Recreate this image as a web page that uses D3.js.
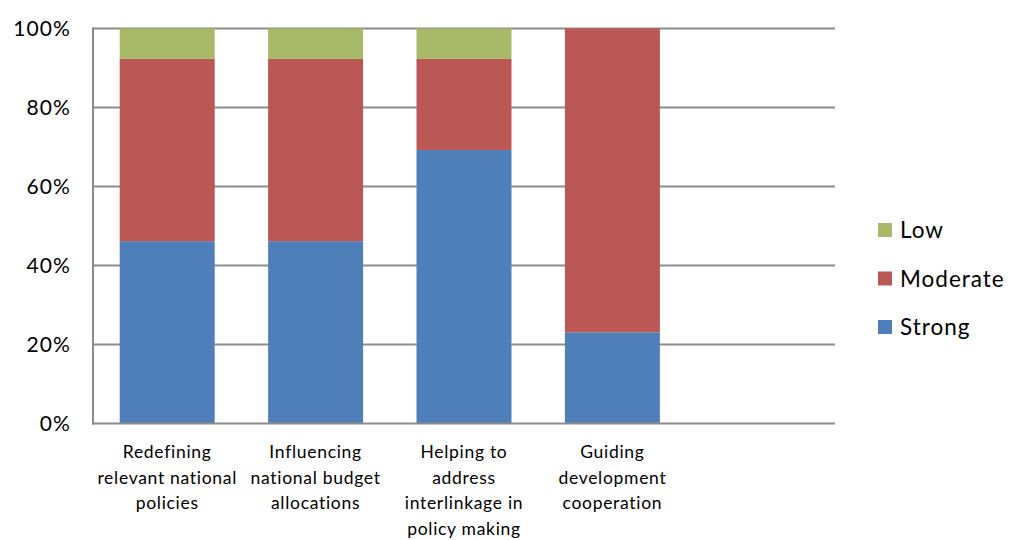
<!DOCTYPE html>
<html>
<head>
<meta charset="utf-8">
<script src="https://cdn.jsdelivr.net/npm/d3@7"></script>
<style>
  html, body { margin: 0; padding: 0; background: #fff; }
  svg { display: block; font-family: "Lato", "Open Sans", sans-serif; }
</style>
</head>
<body>
<svg id="chart" width="1013" height="540"></svg>
<script>
// Categories (with multi-line labels) and shares per level
const categories = [
  ["Redefining", "relevant national", "policies"],
  ["Influencing", "national budget", "allocations"],
  ["Helping to", "address", "interlinkage in", "policy making"],
  ["Guiding", "development", "cooperation"]
];
const strong   = [46.15, 46.15, 69.23, 23.08];
const moderate = [46.15, 46.15, 23.08, 76.92];
const low      = [7.70, 7.70, 7.69, 0];
const seriesNames = ["Strong", "Moderate", "Low"];
const seriesColors = ["#4F7FB8", "#BB5754", "#A8BA67"];
const yTicks = [0, 20, 40, 60, 80, 100];

const svg = d3.select("#chart");
const plot = { left: 93, right: 835, top: 28.5, bottom: 423.5 };

// One spare slot keeps the empty space on the right of the plot
const slots = d3.range(categories.length + 1);
const x = d3.scaleBand().domain(slots).range([plot.left, plot.right])
  .paddingInner(0.36).paddingOuter(0.18);
const y = d3.scaleLinear().domain([0, 100]).range([plot.bottom, plot.top]);

// Horizontal gridlines
svg.append("g").selectAll("line").data(yTicks.filter(t => t > 0)).join("line")
  .attr("x1", plot.left).attr("x2", plot.right)
  .attr("y1", d => y(d)).attr("y2", d => y(d))
  .attr("stroke", "#8c8c8c").attr("stroke-width", 2);

// Stacked bars
const rows = categories.map((c, i) => ({ i, Strong: strong[i], Moderate: moderate[i], Low: low[i] }));
const stack = d3.stack().keys(seriesNames)(rows);
svg.append("g").selectAll("g").data(stack).join("g")
  .attr("fill", (d, k) => seriesColors[k])
  .selectAll("rect").data(d => d.filter(p => p[1] > p[0])).join("rect")
  .attr("x", d => x(d.data.i))
  .attr("width", x.bandwidth())
  .attr("y", d => y(d[1]))
  .attr("height", d => y(d[0]) - y(d[1]));

// Axes lines
svg.append("line").attr("x1", plot.left).attr("x2", plot.left)
  .attr("y1", plot.top - 1).attr("y2", plot.bottom + 1)
  .attr("stroke", "#8c8c8c").attr("stroke-width", 2);
svg.append("line").attr("x1", plot.left - 1).attr("x2", plot.right)
  .attr("y1", plot.bottom).attr("y2", plot.bottom)
  .attr("stroke", "#8c8c8c").attr("stroke-width", 2);

// Y tick labels
svg.append("g").selectAll("text").data(yTicks).join("text")
  .attr("x", 71).attr("y", d => y(d)).attr("dy", "0.36em")
  .attr("text-anchor", "end").attr("font-size", 21).attr("letter-spacing", 1.1)
  .attr("fill", "#000")
  .text(d => d + "%");

// Category labels
const catG = svg.append("g").selectAll("text").data(categories).join("text")
  .attr("text-anchor", "middle").attr("font-size", 17.5).attr("letter-spacing", 0.7)
  .attr("fill", "#000")
  .attr("transform", (d, i) => `translate(${x(i) + x.bandwidth() / 2},0)`);
catG.selectAll("tspan").data(d => d).join("tspan")
  .attr("x", 0).attr("y", (d, j) => 458 + j * 25.5)
  .text(d => d);

// Legend (Low on top)
const legendItems = seriesNames.map((n, k) => ({ n, c: seriesColors[k] })).reverse();
const lg = svg.append("g").selectAll("g").data(legendItems).join("g")
  .attr("transform", (d, k) => `translate(878,${230 + k * 48.5})`);
lg.append("rect").attr("x", 0).attr("y", -7).attr("width", 14).attr("height", 14)
  .attr("fill", d => d.c);
lg.append("text").attr("x", 22).attr("dy", "0.36em")
  .attr("font-size", 22.5).attr("letter-spacing", 1)
  .attr("fill", "#000").text(d => d.n);
</script>
</body>
</html>
